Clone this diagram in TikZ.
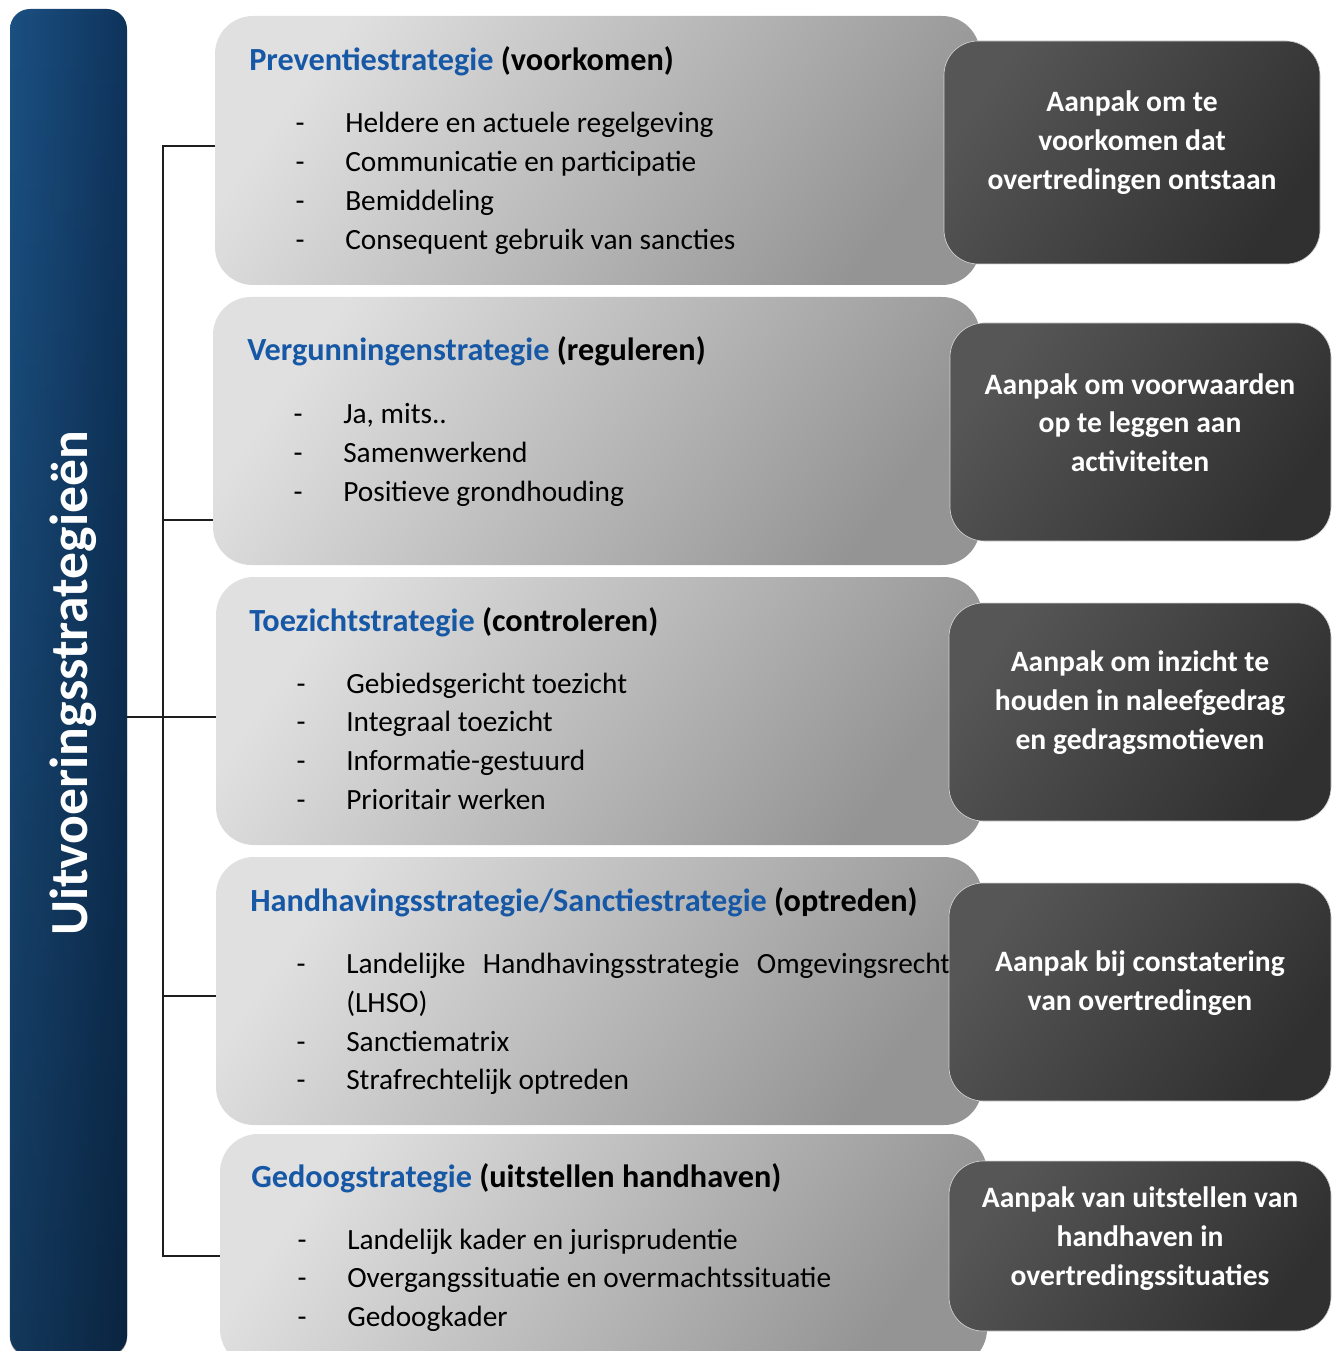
\documentclass[tikz,border=0pt]{standalone}
\usepackage{fontspec}
\setmainfont{Carlito}
\usetikzlibrary{fadings}
\definecolor{hblue}{RGB}{22,88,165}
\definecolor{barL}{RGB}{27,80,130}
\definecolor{barR}{RGB}{15,52,92}
\definecolor{gL}{RGB}{224,224,224}
\definecolor{gR}{RGB}{148,148,148}
\definecolor{dL}{RGB}{86,86,86}
\definecolor{dR}{RGB}{48,48,48}
\definecolor{conncol}{RGB}{30,30,30}
\begin{document}
\begin{tikzpicture}[x=0.75pt,y=-0.75pt,
  barbox/.style={inner sep=0pt, rounded corners=15pt, left color=barL, right color=barR},
  graybox/.style={inner sep=0pt, rounded corners=28.5pt, left color=gL, right color=gR, shading angle=55},
  darkbox/.style={inner sep=0pt, rounded corners=25.5pt, left color=dL, right color=dR, shading angle=55, draw=gray!35, line width=0.5pt},
  conn/.style={draw=conncol, line width=1.1pt},
  heading/.style={anchor=base west, inner sep=0pt, font=\fontsize{24.2pt}{29pt}\selectfont\bfseries},
  itemtext/.style={anchor=base west, inner sep=0pt, font=\fontsize{22pt}{29pt}\selectfont},
  dashmark/.style={anchor=base, inner sep=0pt, font=\fontsize{22pt}{29pt}\selectfont},
  darktext/.style={align=center, inner sep=0pt, text=white, font=\fontsize{22.2pt}{29pt}\selectfont\bfseries}
]
\useasboundingbox (0,0) rectangle (1339,1351);

% connectors
\coordinate (hub) at (163,717);
\coordinate (top) at (163,146);
\coordinate (bot) at (163,1256);

% left bar
\node[barbox, minimum width=87.75pt, minimum height=1010.25pt] (bar) at (68.5,682.5) {};
\fill[black, opacity=0.3, path fading=north, rounded corners=15pt] (bar.north west) rectangle (bar.south east);
\node[rotate=90, anchor=base, inner sep=0pt, text=white, font=\fontsize{40.2pt}{48pt}\selectfont\bfseries] (title) at (87,683.5) {Uitvoeringsstrategieën};

% gray boxes
\node[graybox, minimum width=573.75pt, minimum height=201.75pt] (g1) at (597.5,150.5) {};
\node[graybox, minimum width=575.25pt, minimum height=201pt] (g2) at (596.5,431) {};
\node[graybox, minimum width=574.5pt, minimum height=201pt] (g3) at (599,711) {};
\node[graybox, minimum width=574.5pt, minimum height=201pt] (g4) at (599,991) {};
\node[graybox, minimum width=575.25pt, minimum height=174.75pt] (g5) at (603.5,1250.5) {};

\draw[conn] (bar.east |- hub) -- (g3.west |- hub);
\draw[conn] (g1.west |- top) -- (top) -- (bot) -- (g5.west |- bot);
\draw[conn] (hub |- 0,520) -- (g2.west |- 0,520);
\draw[conn] (hub |- 0,996) -- (g4.west |- 0,996);

% box 1
\node[heading] (h1) at (249,71) {{\color{hblue}Preventiestrategie} (voorkomen)};
\foreach \t [count=\k] in {Heldere en actuele regelgeving, Communicatie en participatie, Bemiddeling, Consequent gebruik van sancties} {
  \node[dashmark] (a\k) at (300,{133+38.9*(\k-1)}) {-};
  \node[itemtext] (at\k) at (345,{133+38.9*(\k-1)}) {\t};
}
% box 2
\node[heading] (h2) at (247,361) {{\color{hblue}Vergunningenstrategie} (reguleren)};
\foreach \t [count=\k] in {{Ja, mits..}, Samenwerkend, Positieve grondhouding} {
  \node[dashmark] (b\k) at (298,{423+39*(\k-1)}) {-};
  \node[itemtext] (bt\k) at (343,{423+39*(\k-1)}) {\t};
}
% box 3
\node[heading] (h3) at (249,631) {{\color{hblue}Toezichtstrategie} (controleren)};
\foreach \t [count=\k] in {Gebiedsgericht toezicht, Integraal toezicht, Informatie-gestuurd, Prioritair werken} {
  \node[dashmark] (c\k) at (301,{693+38.7*(\k-1)}) {-};
  \node[itemtext] (ct\k) at (346,{693+38.7*(\k-1)}) {\t};
}
% box 4
\node[heading] (h4) at (250,911) {{\color{hblue}Handhavingsstrategie/Sanctiestrategie} (optreden)};
\node[dashmark] (e1) at (301,973) {-};
\node[itemtext] (et1) at (346,973) {\makebox[453pt][s]{Landelijke\hfill Handhavingsstrategie\hfill Omgevingsrecht}};
\node[itemtext] (et1b) at (346,1012) {(LHSO)};
\node[dashmark] (e2) at (301,1051) {-};
\node[itemtext] (et2) at (346,1051) {Sanctiematrix};
\node[dashmark] (e3) at (301,1089) {-};
\node[itemtext] (et3) at (346,1089) {Strafrechtelijk optreden};
% box 5
\node[heading] (h5) at (251,1187) {{\color{hblue}Gedoogstrategie} (uitstellen handhaven)};
\foreach \t [count=\k] in {Landelijk kader en jurisprudentie, Overgangssituatie en overmachtssituatie, Gedoogkader} {
  \node[dashmark] (f\k) at (302,{1249+38.5*(\k-1)}) {-};
  \node[itemtext] (ft\k) at (347,{1249+38.5*(\k-1)}) {\t};
}

% dark boxes
\node[darkbox, minimum width=282pt, minimum height=167.25pt] (d1) at (1132,152.5) {};
\node[darkbox, minimum width=285.75pt, minimum height=163.5pt] (d2) at (1140.5,432) {};
\node[darkbox, minimum width=286.5pt, minimum height=163.5pt] (d3) at (1140,712) {};
\node[darkbox, minimum width=286.5pt, minimum height=163.5pt] (d4) at (1140,992) {};
\node[darkbox, minimum width=286.5pt, minimum height=127.5pt] (d5) at (1140,1246) {};

\node[darktext] (dt1) at (1132,142.5) {Aanpak om te\\voorkomen dat\\overtredingen ontstaan};
\node[darktext] (dt2) at (1140,422.5) {Aanpak om voorwaarden\\op te leggen aan\\activiteiten};
\node[darktext] (dt3) at (1140,702.5) {Aanpak om inzicht te\\houden in naleefgedrag\\en gedragsmotieven};
\node[darktext] (dt4) at (1140,983) {Aanpak bij constatering\\van overtredingen};
\node[darktext] (dt5) at (1140,1238.5) {Aanpak van uitstellen van\\handhaven in\\overtredingssituaties};
\end{tikzpicture}
\end{document}
